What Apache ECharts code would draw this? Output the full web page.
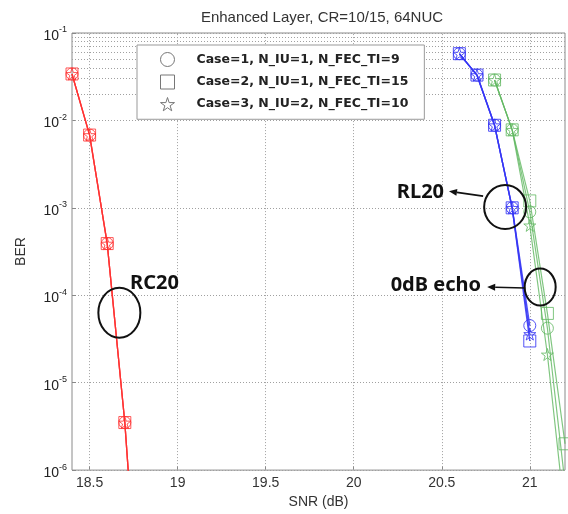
<!DOCTYPE html>
<html>
<head>
<meta charset="utf-8">
<script src="https://cdn.jsdelivr.net/npm/echarts@6/dist/echarts.min.js"></script>
<style>
html, body { margin: 0; padding: 0; background: #fff; }
#chart { width: 568px; height: 514px; }
</style>
</head>
<body>
<div id="chart"></div>
<script>
// legend names, one per case
const caseNames = ['Case=1, N_IU=1, N_FEC_TI=9', 'Case=2, N_IU=1, N_FEC_TI=15', 'Case=3, N_IU=2, N_FEC_TI=10']

// RC20 (red)
const snrRC20 = [18.4, 18.5, 18.6, 18.7, 18.8]
const rc20Case1 = [0.034, 0.0068, 0.00039, 0.0000035, 0.000000005]
const rc20Case2 = [0.034, 0.0068, 0.00039, 0.0000035, 0.000000005]
const rc20Case3 = [0.034, 0.0068, 0.00039, 0.0000035, 0.000000005]

// RL20 (blue)
const snrRL20 = [20.6, 20.7, 20.8, 20.9, 21.0]
const rl20Case1 = [0.058, 0.033, 0.0088, 0.001, 0.000045]
const rl20Case2 = [0.058, 0.033, 0.0088, 0.001, 0.00003]
const rl20Case3 = [0.058, 0.033, 0.0088, 0.001, 0.000036]

// 0dB echo (green)
const snrEcho = [20.8, 20.9, 21.0, 21.1, 21.2]
const echoCase1 = [0.029, 0.0078, 0.0009, 0.000042, 0.0000007]
const echoCase2 = [0.029, 0.0078, 0.0012, 0.000062, 0.000002]
const echoCase3 = [0.029, 0.0078, 0.00063, 0.000021, 0.0000003]

// axis ticks
const xTicks = [18.5, 19, 19.5, 20, 20.5, 21]
const yDecades = [1e-6, 1e-5, 1e-4, 1e-3, 1e-2, 1e-1]

// annotations, placed in data coordinates
const notes = [
  {text: 'RC20', at: [18.73, 1.38e-4], align: 'left', ellipse: [18.669, 6.3e-5], rx: 21, ry: 25},
  {text: 'RL20', at: [20.513, 1.5e-3], align: 'right', ellipse: [20.86, 1.02e-3], rx: 21, ry: 22,
    arrow: [[20.541, 1.55e-3], [20.735, 1.36e-3]]},
  {text: '0dB echo', at: [20.723, 1.31e-4], align: 'right', ellipse: [21.059, 1.24e-4], rx: 15.5, ry: 18.5,
    arrow: [[20.758, 1.24e-4], [20.974, 1.21e-4]]}
]

const star = 'path://M50,0 L61,35 L98,35 L68,57 L79,91 L50,70 L21,91 L32,57 L2,35 L39,35 Z'
const symbols = ['circle', 'rect', star]
const red = '#ff3030'
const blue = '#3535f5'
const green = '#62b862'

// minor grid values 2..9 in each decade
const yMinor = []
yDecades.slice(0, -1).forEach(d => {
  for (let k = 2; k <= 9; k++) yMinor.push(d * k)
})

function makeSeries (name, snr, ber, symbol, color, width, opacity) {
  return {
    name: name,
    type: 'line',
    data: snr.map((x, i) => [x, ber[i]]),
    symbol: symbol,
    symbolSize: 12,
    showAllSymbol: true,
    lineStyle: {color: color, width: width, opacity: opacity},
    itemStyle: {color: 'rgba(0,0,0,0)', borderColor: color, borderWidth: 1, opacity: opacity},
    z: 3
  }
}

const series = [
  makeSeries(caseNames[0], snrRC20, rc20Case1, symbols[0], red, 1.3, 0.8),
  makeSeries(caseNames[1], snrRC20, rc20Case2, symbols[1], red, 1.3, 0.8),
  makeSeries(caseNames[2], snrRC20, rc20Case3, symbols[2], red, 1.3, 0.8),
  makeSeries(caseNames[0], snrRL20, rl20Case1, symbols[0], blue, 1.4, 0.85),
  makeSeries(caseNames[1], snrRL20, rl20Case2, symbols[1], blue, 1.4, 0.85),
  makeSeries(caseNames[2], snrRL20, rl20Case3, symbols[2], blue, 1.4, 0.85),
  makeSeries(caseNames[0], snrEcho, echoCase1, symbols[0], green, 1.2, 0.8),
  makeSeries(caseNames[1], snrEcho, echoCase2, symbols[1], green, 1.2, 0.8),
  makeSeries(caseNames[2], snrEcho, echoCase3, symbols[2], green, 1.2, 0.8),
  {
    // grid lines
    type: 'line',
    data: [],
    silent: true,
    markLine: {
      silent: true,
      symbol: 'none',
      z: 1,
      label: {show: false},
      lineStyle: {type: [1, 2], color: '#a0a0a0', width: 1},
      data: xTicks.map(v => ({xAxis: v})).concat(yMinor.map(v => ({yAxis: v})))
    }
  }
]

const chart = echarts.init(document.getElementById('chart'))
chart.setOption({
  animation: false,
  title: {
    text: 'Enhanced Layer, CR=10/15, 64NUC',
    left: 317,
    top: 5,
    textAlign: 'center',
    textStyle: {fontSize: 15, fontWeight: 'normal', color: '#333', fontFamily: 'Liberation Sans'}
  },
  legend: {
    orient: 'vertical',
    left: 137,
    top: 45,
    padding: [7, 16, 8, 23],
    itemGap: 7.5,
    itemWidth: 14,
    itemHeight: 14,
    backgroundColor: '#fff',
    borderColor: '#999',
    borderWidth: 1,
    selectedMode: false,
    textStyle: {fontSize: 12.5, fontWeight: 'bold', color: '#222', fontFamily: 'DejaVu Sans', padding: [0, 0, 0, 17]},
    data: caseNames.map((n, i) => ({
      name: n,
      icon: symbols[i],
      itemStyle: {color: 'rgba(0,0,0,0)', borderColor: '#777', borderWidth: 1, opacity: 1},
      lineStyle: {opacity: 0}
    }))
  },
  grid: {
    left: 72,
    right: 3,
    top: 33,
    bottom: 43,
    show: true,
    borderColor: '#8a8a8a',
    borderWidth: 1,
    backgroundColor: '#fff'
  },
  xAxis: {
    type: 'value',
    min: 18.4,
    max: 21.2,
    name: 'SNR (dB)',
    nameLocation: 'middle',
    nameGap: 24,
    nameTextStyle: {fontSize: 14, color: '#333', fontFamily: 'Liberation Sans'},
    axisLine: {show: false},
    splitLine: {show: false},
    axisTick: {show: true, inside: true, length: 4, customValues: xTicks, lineStyle: {color: '#888'}},
    axisLabel: {
      customValues: xTicks,
      fontSize: 14,
      color: '#333',
      margin: 6,
      fontFamily: 'Liberation Sans',
      formatter: v => String(v)
    }
  },
  yAxis: {
    type: 'log',
    logBase: 10,
    min: 1e-6,
    max: 1e-1,
    name: 'BER',
    nameLocation: 'middle',
    nameGap: 44,
    nameTextStyle: {fontSize: 14, color: '#333', fontFamily: 'Liberation Sans'},
    axisLine: {show: false},
    axisTick: {show: true, inside: true, length: 4, lineStyle: {color: '#888'}},
    splitLine: {show: true, lineStyle: {type: [1, 2], color: '#a0a0a0', width: 1}},
    axisLabel: {
      margin: 5,
      color: '#222',
      fontFamily: 'Liberation Sans',
      formatter: v => '{b|10}{e|' + Math.round(Math.log10(v)) + '}',
      rich: {
        b: {fontSize: 14, color: '#222', fontFamily: 'Liberation Sans', padding: [6, 0, 0, 0]},
        e: {fontSize: 9, color: '#222', fontFamily: 'Liberation Sans', padding: [0, 0, 6, 0]}
      }
    }
  },
  series: series
})

// annotations
const graphics = []
const noteFont = 'bold 20px "Noto Sans"'
notes.forEach(n => {
  const p = chart.convertToPixel({gridIndex: 0}, n.at)
  const e = chart.convertToPixel({gridIndex: 0}, n.ellipse)
  graphics.push({
    type: 'ellipse',
    shape: {cx: e[0], cy: e[1], rx: n.rx, ry: n.ry},
    style: {fill: 'none', stroke: '#111', lineWidth: 2},
    z: 100
  })
  graphics.push({
    type: 'text',
    x: p[0],
    y: p[1],
    style: {text: n.text, font: noteFont, fill: '#111', textAlign: n.align, textVerticalAlign: 'middle'},
    z: 100
  })
  if (n.arrow) {
    const a = chart.convertToPixel({gridIndex: 0}, n.arrow[0])
    const b = chart.convertToPixel({gridIndex: 0}, n.arrow[1])
    const ang = Math.atan2(b[1] - a[1], b[0] - a[0])
    const hx = a[0] + 8 * Math.cos(ang)
    const hy = a[1] + 8 * Math.sin(ang)
    graphics.push({
      type: 'line',
      shape: {x1: hx, y1: hy, x2: b[0], y2: b[1]},
      style: {stroke: '#111', lineWidth: 1.6},
      z: 100
    })
    const nx = -Math.sin(ang) * 3.5
    const ny = Math.cos(ang) * 3.5
    graphics.push({
      type: 'polygon',
      shape: {points: [[a[0], a[1]], [hx + nx, hy + ny], [hx - nx, hy - ny]]},
      style: {fill: '#111'},
      z: 100
    })
  }
})
chart.setOption({graphic: graphics})
</script>
</body>
</html>
